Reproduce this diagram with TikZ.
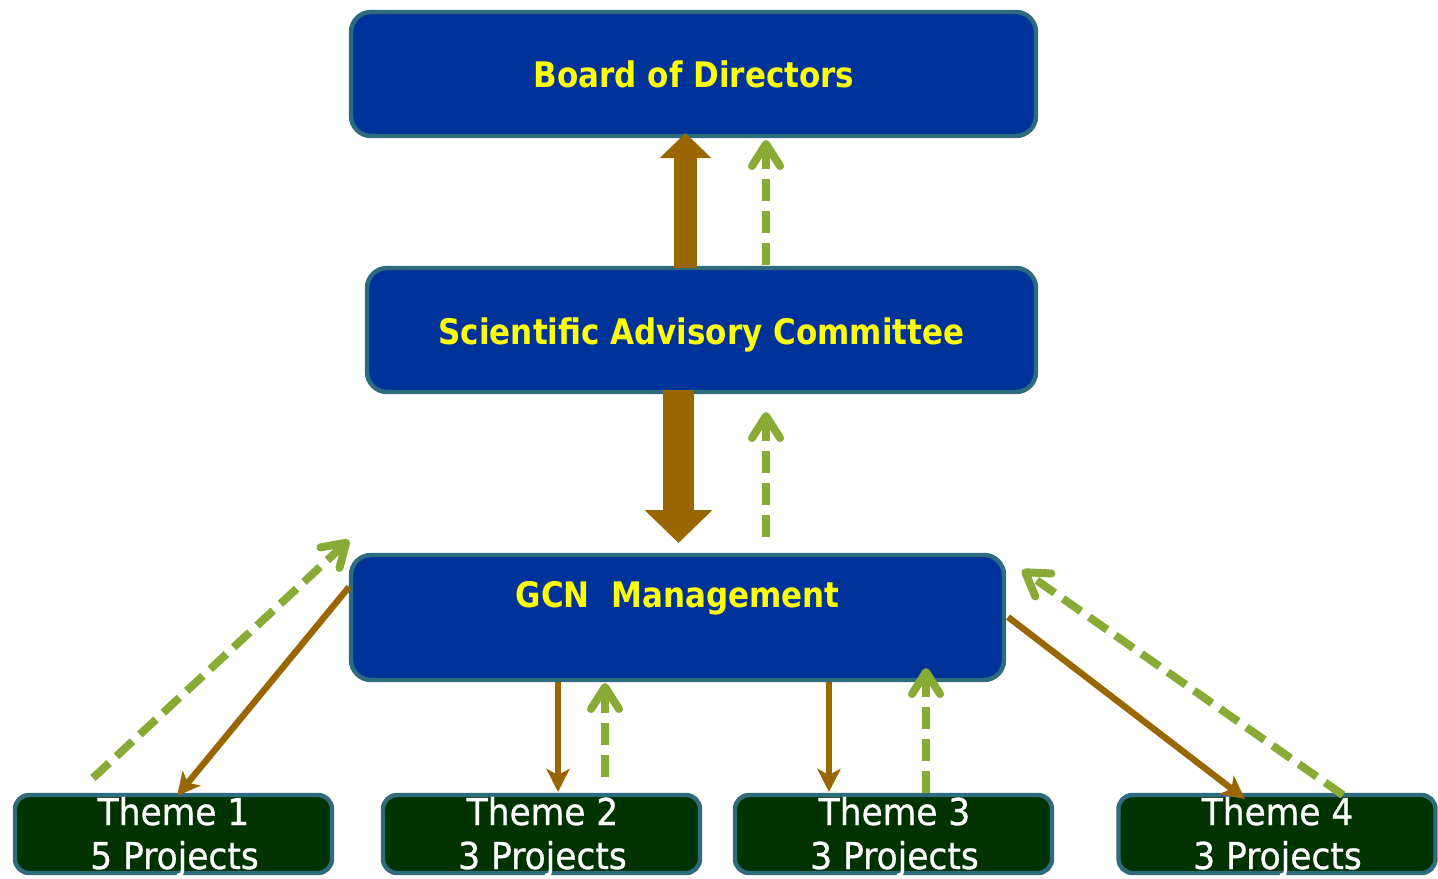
\documentclass[tikz,border=0pt]{standalone}
\usepackage{fontspec}
\usetikzlibrary{arrows.meta}
\newfontfamily\headfont[FakeStretch=0.88]{DejaVu Sans}
\newfontfamily\themefont[FakeStretch=0.93,FakeBold=0.8]{DejaVu Sans}
\definecolor{boxblue}{HTML}{003399}
\definecolor{boxedge}{HTML}{2F6B7F}
\definecolor{themegreen}{HTML}{003300}
\definecolor{txtyellow}{HTML}{FFFF00}
\definecolor{brown}{HTML}{996600}
\definecolor{lgreen}{HTML}{87AB34}
\tikzset{
  bluebox/.style={draw=boxedge, line width=2.2pt, fill=boxblue, rounded corners=10pt, inner sep=0pt},
  themebox/.style={draw=boxedge, line width=2.2pt, fill=themegreen, rounded corners=7pt, inner sep=0pt,
    minimum width=158.5pt, minimum height=39pt},
  headtext/.style={anchor=base, text=txtyellow, font=\headfont\bfseries\fontsize{17.6}{20}\selectfont, inner sep=0pt},
  themetext/.style={anchor=base, text=white, font=\themefont\fontsize{18.5}{22}\selectfont, inner sep=0pt},
  fbk/.style={draw=lgreen, line width=4pt, dash pattern=on 11pt off 5pt,
    -{Straight Barb[length=11pt, width=14pt, round]}},
  thin/.style={draw=brown, line width=3.2pt, -{Stealth[length=11.5pt, width=11.5pt, inset=3pt]}},
}
\begin{document}
\begin{tikzpicture}[x=0.5pt, y=-0.5pt]
\useasboundingbox (0,0) rectangle (1438,878);
% boxes
\node[bluebox, minimum width=342.5pt, minimum height=62pt] (board) at (693.5,74) {};
\node[bluebox, minimum width=334.5pt, minimum height=62pt] (sac) at (701.5,330) {};
\node[bluebox, minimum width=326.5pt, minimum height=62.5pt] (gcn) at (677.5,617.5) {};
\node[themebox] (t1) at (173.5,834) {};
\node[themebox] (t2) at (541.5,834) {};
\node[themebox] (t3) at (893.5,834) {};
\node[themebox] (t4) at (1277,834) {};
% texts
\node[headtext] (boardtxt) at (694,87) {Board of Directors};
\node[headtext] (sactxt) at (701.5,344) {Scientific Advisory Committee};
\node[headtext] (gcntxt) at (677.5,607) {GCN\ \ Management};
\node[themetext] (t1a) at (173.5,825) {Theme 1};
\node[themetext] (t1b) at (174.5,869) {5 Projects};
\node[themetext] (t2a) at (542.5,825) {Theme 2};
\node[themetext] (t2b) at (542.5,869) {3 Projects};
\node[themetext] (t3a) at (894.5,825) {Theme 3};
\node[themetext] (t3b) at (894.5,869) {3 Projects};
\node[themetext] (t4a) at (1277.5,825) {Theme 4};
\node[themetext] (t4b) at (1277.5,869) {3 Projects};
% connector end points
\coordinate (a1s) at (685.5,268); \coordinate (a1e) at (685.5,133);
\coordinate (g1s) at (766,265);   \coordinate (g1e) at (766,140);
\coordinate (a2s) at (678.5,390); \coordinate (a2e) at (678.5,543);
\coordinate (g2s) at (766,537);   \coordinate (g2e) at (766,412);
\coordinate (gt1s) at (93,778);   \coordinate (gt1e) at (349,540);
\coordinate (bt1s) at (349,587);  \coordinate (bt1e) at (177,796);
\coordinate (bt2s) at (558,682);  \coordinate (bt2e) at (558,792);
\coordinate (gt2s) at (605,777);  \coordinate (gt2e) at (605,683);
\coordinate (bt3s) at (829,682);  \coordinate (bt3e) at (829,792);
\coordinate (gt3s) at (926,793);  \coordinate (gt3e) at (926,668);
\coordinate (bt4s) at (1008,617); \coordinate (bt4e) at (1245,799);
\coordinate (gt4s) at (1343,795); \coordinate (gt4e) at (1022,570);
% thick arrows
\draw[draw=brown, line width=11.5pt, -{Triangle[length=12.5pt, width=25pt]}] (a1s) -- (a1e);
\draw[draw=brown, line width=15.5pt, -{Triangle[length=16.5pt, width=33pt]}] (a2s) -- (a2e);
% feedback arrows
\draw[fbk] (g1s) -- (g1e);
\draw[fbk] (g2s) -- (g2e);
\draw[fbk] (gt1s) -- (gt1e);
\draw[fbk] (gt2s) -- (gt2e);
\draw[fbk] (gt3s) -- (gt3e);
\draw[fbk] (gt4s) -- (gt4e);
% thin brown arrows
\draw[thin] (bt1s) -- (bt1e);
\draw[thin, line width=2.8pt] (bt2s) -- (bt2e);
\draw[thin, line width=2.8pt] (bt3s) -- (bt3e);
\draw[thin] (bt4s) -- (bt4e);
\end{tikzpicture}
\end{document}
